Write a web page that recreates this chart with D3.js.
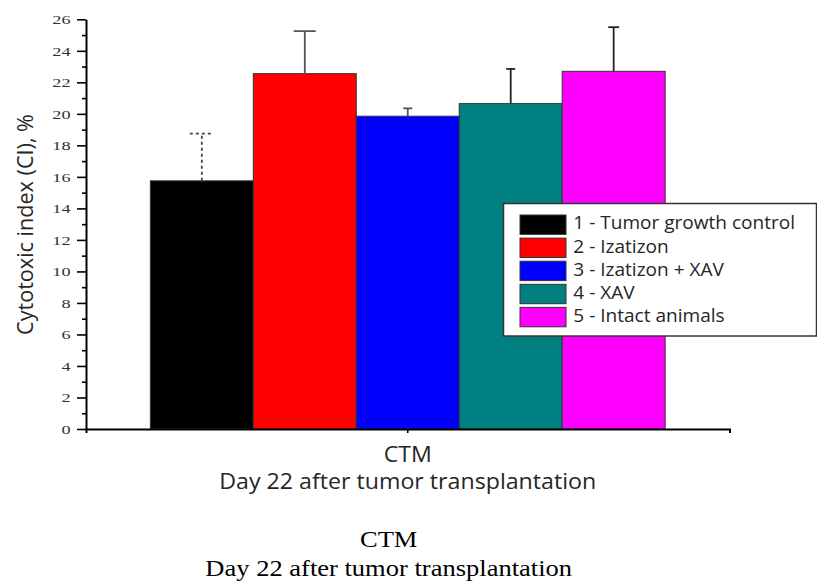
<!DOCTYPE html>
<html>
<head>
<meta charset="utf-8">
<script src="https://cdn.jsdelivr.net/npm/d3@7"></script>
<style>
  html, body { margin: 0; padding: 0; background: #fff; }
  svg { display: block; }
</style>
</head>
<body>
<svg id="chart" width="817" height="581"></svg>
<script>
// ---------------- DATA ----------------
const categories = ["CTM"];
const seriesNames = [
  "1 - Tumor growth control",
  "2 - Izatizon",
  "3 - Izatizon + XAV",
  "4 - XAV",
  "5 - Intact animals"
];
const values = [15.75, 22.55, 19.85, 20.65, 22.7];
const errors = [3.0, 2.7, 0.5, 2.2, 2.8];
const yTickValues = [0, 2, 4, 6, 8, 10, 12, 14, 16, 18, 20, 22, 24, 26];
const yMinorTickValues = [1, 3, 5, 7, 9, 11, 13, 15, 17, 19, 21, 23, 25];
const yTitle = "Cytotoxic index (CI), %";
const xTitleLines = ["CTM", "Day 22 after tumor transplantation"];

// ---------------- STYLES ----------------
const colors = ["#000000", "#ff0000", "#0000ff", "#008080", "#ff00ff"];
const errColors = ["#444444", "#555555", "#555555", "#222222", "#222222"];
const errDash = ["3,3", null, null, null, null];
const capWidths = [24, 22, 9, 9, 11];
const sansFont = "'Open Sans', Lato, sans-serif";
const serifFont = "'Liberation Serif', 'Times New Roman', serif";

const svg = d3.select("#chart");

// ---------------- SCALES ----------------
const plotLeft = 86, plotRight = 729.5, plotTop = 19.3, plotBottom = 429;
const x0 = d3.scaleBand().domain(categories).range([plotLeft, plotRight]).padding(0);
const x1 = d3.scaleBand().domain(seriesNames)
  .range([x0.bandwidth() * 0.1, x0.bandwidth() * 0.9]).padding(0);
const y = d3.scaleLinear().domain([0, 26]).range([plotBottom, plotTop]);

// helper: horizontally stretch a text element about its anchor x
function stretchTo(sel, target, ax) {
  const w = sel.node().getComputedTextLength();
  const s = target / w;
  sel.attr("transform", `translate(${ax},0) scale(${s},1) translate(${-ax},0)`);
  return s;
}
function stretchBy(sel, s, ax) {
  sel.attr("transform", `translate(${ax},0) scale(${s},1) translate(${-ax},0)`);
}

// ---------------- BARS ----------------
const gBars = svg.append("g");
categories.forEach(cat => {
  const gx = gBars.append("g").attr("transform", `translate(${x0(cat)},0)`);
  seriesNames.forEach((name, i) => {
    const bx = x1(name), bw = x1.bandwidth(), cx = bx + bw / 2;
    gx.append("rect")
      .attr("x", bx).attr("y", y(values[i]))
      .attr("width", bw).attr("height", y(0) - y(values[i]))
      .attr("fill", colors[i])
      .attr("stroke", "#333").attr("stroke-width", 1);
    const top = y(values[i] + errors[i]);
    gx.append("line")
      .attr("x1", cx).attr("x2", cx)
      .attr("y1", y(values[i])).attr("y2", top)
      .attr("stroke", errColors[i]).attr("stroke-width", 1.8)
      .attr("stroke-dasharray", errDash[i]);
    gx.append("line")
      .attr("x1", cx - capWidths[i] / 2).attr("x2", cx + capWidths[i] / 2)
      .attr("y1", top).attr("y2", top)
      .attr("stroke", errColors[i]).attr("stroke-width", 1.8)
      .attr("stroke-dasharray", errDash[i]);
  });
});

// ---------------- AXES ----------------
const yAxis = svg.append("g").attr("transform", `translate(${plotLeft},0)`)
  .call(d3.axisLeft(y).tickValues(yTickValues).tickSize(9).tickSizeOuter(0).tickFormat(d3.format("d")));
yAxis.select(".domain").attr("stroke", "#000").attr("stroke-width", 2);
yAxis.selectAll(".tick line").attr("stroke", "#000").attr("stroke-width", 1.6);
yAxis.selectAll(".tick text")
  .attr("x", 0)
  .attr("font-family", serifFont)
  .attr("font-size", 13.5)
  .attr("fill", "#333")
  .attr("transform", "translate(-15.5,0) scale(1.35,1)");

const yMinor = svg.append("g").attr("transform", `translate(${plotLeft},0)`)
  .call(d3.axisLeft(y).tickValues(yMinorTickValues).tickSize(4).tickSizeOuter(0).tickFormat(""));
yMinor.select(".domain").remove();
yMinor.selectAll(".tick line").attr("stroke", "#000").attr("stroke-width", 1.6);

const xAxis = svg.append("g").attr("transform", `translate(0,${plotBottom})`)
  .call(d3.axisBottom(x0).tickSize(4).tickSizeOuter(4).tickFormat(""));
xAxis.select(".domain").attr("stroke", "#000").attr("stroke-width", 2);
xAxis.selectAll(".tick line").attr("stroke", "#000").attr("stroke-width", 1.6);

// ---------------- TITLES ----------------
const yT = svg.append("g").attr("transform", "translate(33,224.5) rotate(-90)");
const yTxt = yT.append("text").text(yTitle)
  .attr("x", 0).attr("y", 0).attr("text-anchor", "middle")
  .attr("font-family", sansFont).attr("font-size", 21).attr("fill", "#262626");
stretchTo(yTxt, 221, 0);

const cx0 = x0(categories[0]) + x0.bandwidth() / 2;
const xt1 = svg.append("text").text(xTitleLines[0])
  .attr("x", cx0).attr("y", 461.7).attr("text-anchor", "middle")
  .attr("font-family", sansFont).attr("font-size", 21).attr("fill", "#262626");
const xt2 = svg.append("text").text(xTitleLines[1])
  .attr("x", cx0).attr("y", 489).attr("text-anchor", "middle")
  .attr("font-family", sansFont).attr("font-size", 21).attr("fill", "#262626");
const sx = stretchTo(xt2, 377, cx0);
stretchBy(xt1, sx, cx0);

const bx0 = 388.7;
const bt1 = svg.append("text").text(xTitleLines[0])
  .attr("x", bx0).attr("y", 547.3).attr("text-anchor", "middle")
  .attr("font-family", serifFont).attr("font-size", 23.5).attr("fill", "#000");
const bt2 = svg.append("text").text(xTitleLines[1])
  .attr("x", bx0).attr("y", 576).attr("text-anchor", "middle")
  .attr("font-family", serifFont).attr("font-size", 23.5).attr("fill", "#000");
const sb = stretchTo(bt2, 367, bx0);
stretchBy(bt1, sb, bx0);

// ---------------- LEGEND ----------------
const lg = svg.append("g");
lg.append("rect")
  .attr("x", 503.5).attr("y", 203.5).attr("width", 313).attr("height", 132.5)
  .attr("fill", "#fff").attr("stroke", "#333").attr("stroke-width", 1.5);
let legScale = null;
seriesNames.forEach((name, i) => {
  const ty = 215 + i * 23.1;
  lg.append("rect")
    .attr("x", 520).attr("y", ty).attr("width", 46).attr("height", 19.4)
    .attr("fill", colors[i]).attr("stroke", "#333").attr("stroke-width", 1);
  const t = lg.append("text").text(name)
    .attr("x", 573.3).attr("y", ty + 14.5)
    .attr("font-family", sansFont).attr("font-size", 18.5).attr("fill", "#262626");
  if (i === 0) legScale = stretchTo(t, 222, 573.3);
  else stretchBy(t, legScale, 573.3);
});
</script>
</body>
</html>
